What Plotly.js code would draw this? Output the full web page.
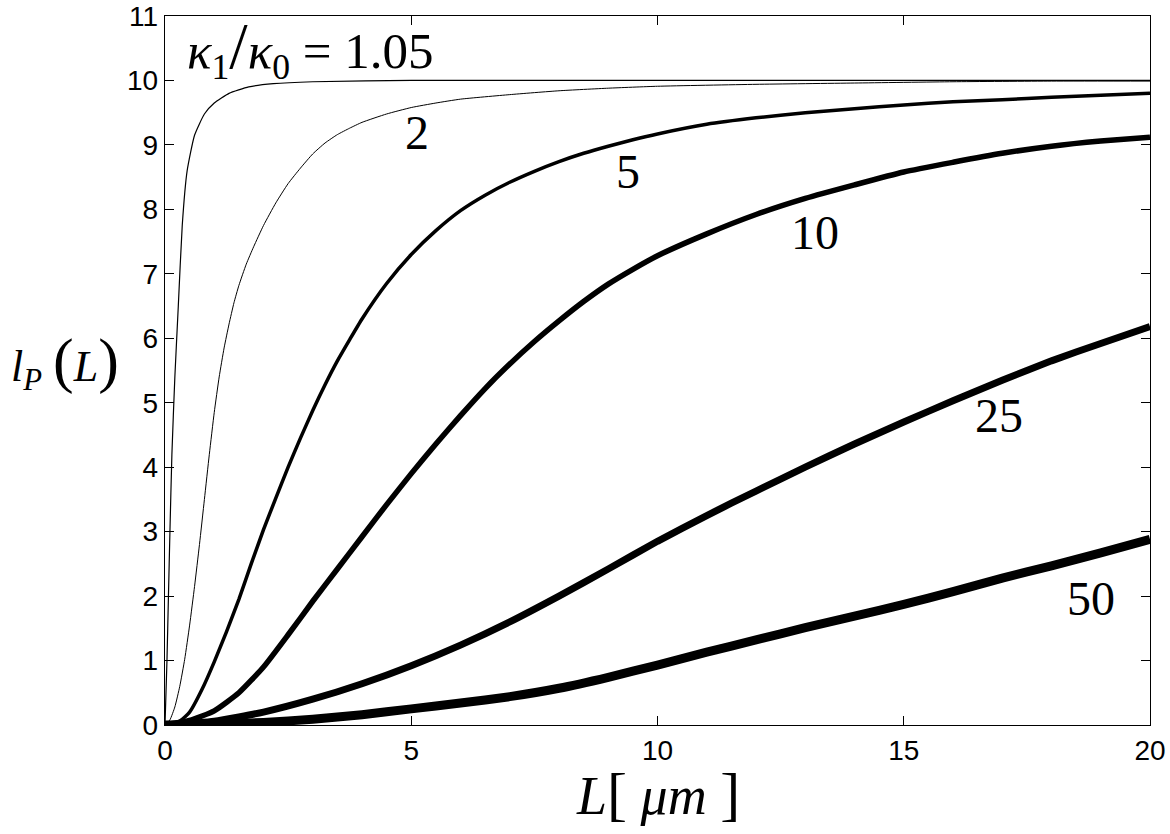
<!DOCTYPE html>
<html>
<head>
<meta charset="utf-8">
<script src="https://cdn.plot.ly/plotly-3.0.1.min.js"></script>
<style>html,body{margin:0;padding:0;background:#fff;}#chart{width:1170px;height:834px;}</style>
</head>
<body>
<div id="chart"></div>
<script>
// ratio kappa1/kappa0 = 1.05
const x105 = [0, 0.04, 0.07, 0.1, 0.14, 0.2, 0.27, 0.35, 0.45, 0.6, 0.8, 1.0, 1.3, 1.7, 2.2, 3, 5, 20];
const y105 = [0, 1.0, 2.0, 3.0, 4.2, 5.4, 6.5, 7.75, 8.6, 9.15, 9.48, 9.65, 9.8, 9.9, 9.95, 9.98, 10, 10];
// ratio 2
const x2 = [0, 0.1, 0.2, 0.3, 0.4, 0.5, 0.6, 0.7, 0.8, 0.9, 1.0, 1.1, 1.2, 1.3, 1.4, 1.5, 1.65, 1.8, 2.0, 2.25, 2.5, 2.75, 3.0, 3.25, 3.5, 3.75, 4.0, 4.5, 5, 5.5, 6, 7, 8, 9, 10, 12, 14, 16, 18, 20];
const y2 = [0, 0.08, 0.28, 0.6, 1.02, 1.55, 2.15, 2.8, 3.5, 4.2, 4.85, 5.4, 5.85, 6.22, 6.55, 6.82, 7.15, 7.42, 7.75, 8.1, 8.4, 8.64, 8.86, 9.03, 9.16, 9.26, 9.35, 9.48, 9.58, 9.65, 9.71, 9.78, 9.84, 9.88, 9.91, 9.94, 9.96, 9.98, 9.99, 9.99];
// ratio 5
const x5 = [0, 0.3, 0.5, 0.75, 1, 1.25, 1.5, 1.75, 2, 2.25, 2.5, 2.75, 3, 3.25, 3.5, 3.75, 4, 4.5, 5, 5.5, 6, 6.5, 7, 7.5, 8, 8.5, 9, 9.5, 10, 11, 12, 13, 14, 15, 16, 17, 18, 19, 20];
const y5 = [0, 0.06, 0.2, 0.55, 0.98, 1.45, 1.95, 2.5, 3.03, 3.52, 4.0, 4.45, 4.88, 5.28, 5.65, 5.98, 6.3, 6.85, 7.3, 7.67, 7.98, 8.22, 8.42, 8.59, 8.74, 8.87, 8.98, 9.08, 9.17, 9.32, 9.42, 9.5, 9.56, 9.62, 9.67, 9.7, 9.74, 9.77, 9.8];
// ratio 10
const x10 = [0, 0.5, 1, 1.5, 2, 2.5, 3, 3.5, 4, 4.5, 5, 5.5, 6, 6.5, 7, 7.5, 8, 8.5, 9, 9.5, 10, 11, 12, 13, 14, 15, 16, 17, 18, 19, 20];
const y10 = [0, 0.07, 0.22, 0.5, 0.9, 1.4, 1.92, 2.42, 2.92, 3.42, 3.9, 4.36, 4.8, 5.22, 5.6, 5.95, 6.27, 6.57, 6.84, 7.07, 7.28, 7.62, 7.92, 8.17, 8.38, 8.58, 8.73, 8.87, 8.98, 9.06, 9.12];
// ratio 25
const x25 = [0, 1, 2, 3, 4, 5, 6, 7, 8, 9, 10, 11, 12, 13, 14, 15, 16, 17, 18, 19, 20];
const y25 = [0, 0.06, 0.2, 0.4, 0.64, 0.92, 1.24, 1.6, 2.0, 2.42, 2.85, 3.25, 3.63, 4.0, 4.36, 4.7, 5.03, 5.35, 5.65, 5.92, 6.18];
// ratio 50
const x50 = [0, 1, 2, 3, 4, 5, 6, 7, 8, 9, 10, 11, 12, 13, 14, 15, 16, 17, 18, 19, 20];
const y50 = [0, 0.01, 0.04, 0.09, 0.16, 0.25, 0.34, 0.44, 0.57, 0.74, 0.93, 1.13, 1.32, 1.51, 1.69, 1.87, 2.07, 2.28, 2.47, 2.67, 2.88];

const curveLabels = ['2', '5', '10', '25', '50'];
const labelX = [5.12, 9.4, 13.2, 16.93, 18.8];
const labelY = [9.19, 8.59, 7.64, 4.8, 1.96];

const xTicks = [0, 5, 10, 15, 20];
const yTicks = [0, 1, 2, 3, 4, 5, 6, 7, 8, 9, 10, 11];

const series = [
  {x: x105, y: y105, w: 1.2},
  {x: x2, y: y2, w: 1.0},
  {x: x5, y: y5, w: 3.5},
  {x: x10, y: y10, w: 5.5},
  {x: x25, y: y25, w: 7},
  {x: x50, y: y50, w: 9}
];

const traces = series.map(s => ({
  x: s.x, y: s.y, type: 'scatter', mode: 'lines',
  line: {color: '#000', width: s.w, shape: 'spline', smoothing: 0.5},
  hoverinfo: 'skip', showlegend: false
}));

const serif = 'Liberation Serif, Times New Roman, serif';
const annotations = curveLabels.map((t, i) => ({
  x: labelX[i], y: labelY[i], xref: 'x', yref: 'y', text: t, showarrow: false,
  font: {family: serif, size: 48, color: '#000'}, xanchor: 'center', yanchor: 'middle'
}));

annotations.push({
  x: 0.4, y: 10.5, xref: 'x', yref: 'y', xanchor: 'left', yanchor: 'middle', showarrow: false,
  text: '<i>κ</i><sub>1</sub><span style="font-size:66px">/</span><i>κ</i><sub>0</sub> = 1.05',
  font: {family: serif, size: 51, color: '#000'}
});
annotations.push({
  x: -0.102, y: 0.512, xref: 'paper', yref: 'paper', xanchor: 'center', yanchor: 'middle', showarrow: false,
  text: '<i>l</i><sub><i>P</i></sub> <span style="font-size:62px">(</span><i>L</i><span style="font-size:62px">)</span>',
  font: {family: serif, size: 44, color: '#000'}
});
annotations.push({
  x: 0.5, y: -0.097, xref: 'paper', yref: 'paper', xanchor: 'center', yanchor: 'middle', showarrow: false,
  text: '<i>L</i><span style="font-size:60px">[</span> <i>μm</i> <span style="font-size:60px">]</span>',
  font: {family: serif, size: 54, color: '#000'}
});

const axisCommon = {
  showgrid: false, zeroline: false, showline: true, linecolor: '#000', linewidth: 1.2,
  mirror: 'ticks', ticks: 'inside', ticklen: 9, tickwidth: 1, tickcolor: '#000',
  tickfont: {family: 'Liberation Sans, Arial, sans-serif', size: 28, color: '#000'}
};

const layout = {
  width: 1170, height: 834,
  margin: {l: 165, r: 20, t: 16, b: 109},
  paper_bgcolor: '#fff', plot_bgcolor: '#fff',
  xaxis: Object.assign({}, axisCommon, {range: [0, 20], tickvals: xTicks, ticktext: xTicks.map(String)}),
  yaxis: Object.assign({}, axisCommon, {range: [0, 11], tickvals: yTicks, ticktext: yTicks.map(String)}),
  annotations: annotations,
  showlegend: false
};

Plotly.newPlot('chart', traces, layout, {staticPlot: true, displayModeBar: false});
</script>
</body>
</html>
